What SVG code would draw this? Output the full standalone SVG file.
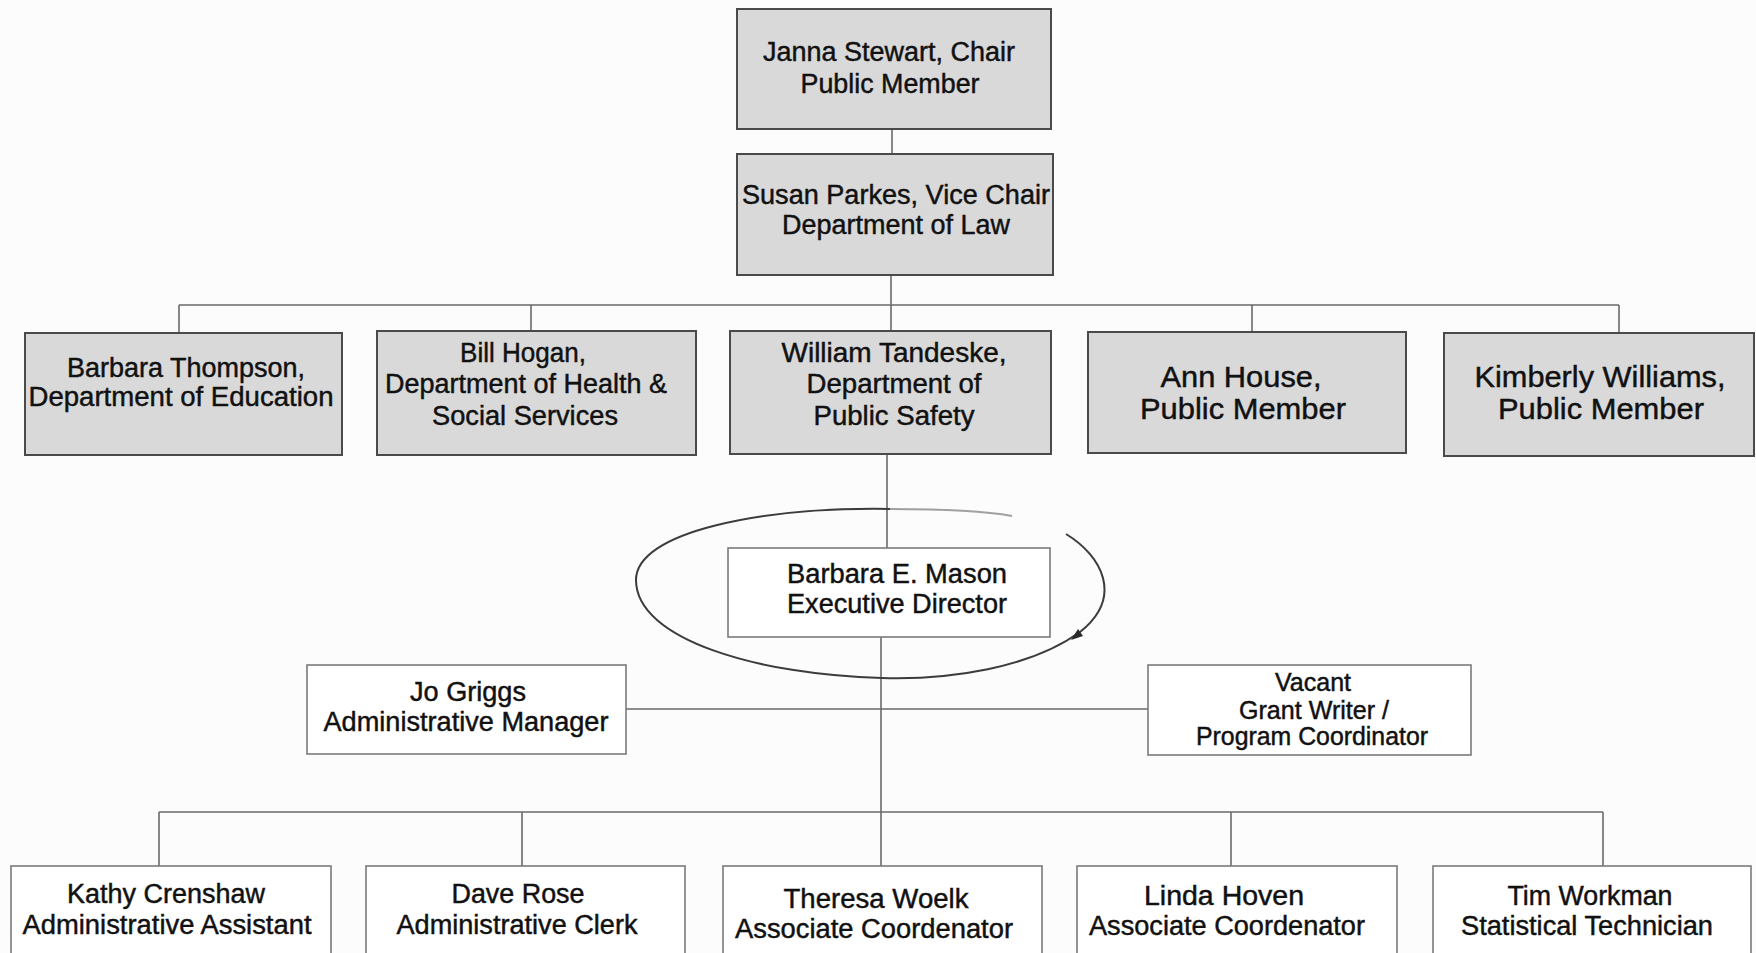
<svg xmlns="http://www.w3.org/2000/svg" width="1756" height="953" viewBox="0 0 1756 953">
<defs>
<style>
.bg{fill:#fcfcfc}
.box{fill:#d9d9d9;stroke:#4a4a4a;stroke-width:2}
.wbox{fill:#ffffff;stroke:#7a7a7a;stroke-width:1.6}
.ln{stroke:#6a6a6a;stroke-width:1.6;fill:none}
.t{font-family:"Liberation Sans",Arial,sans-serif;fill:#111;stroke:#111;stroke-width:0.45;text-anchor:middle}
.s27{font-size:27px}
.s25{font-size:25px}
.s30{font-size:30px}
.loop{stroke:#3c3c3c;stroke-width:2;fill:none}
</style>
</defs>
<rect class="bg" x="0" y="0" width="1756" height="953"/>

<g id="connectors">
  <line class="ln" x1="892" y1="129" x2="892" y2="154"/>
  <line class="ln" x1="891" y1="275" x2="891" y2="331"/>
  <line class="ln" x1="179" y1="305" x2="1619" y2="305"/>
  <line class="ln" x1="179" y1="305" x2="179" y2="333"/>
  <line class="ln" x1="531" y1="305" x2="531" y2="331"/>
  <line class="ln" x1="1252" y1="305" x2="1252" y2="332"/>
  <line class="ln" x1="1619" y1="305" x2="1619" y2="333"/>
  <line class="ln" x1="887" y1="454" x2="887" y2="548"/>
  <line class="ln" x1="881" y1="637" x2="881" y2="866"/>
  <line class="ln" x1="626" y1="709" x2="1148" y2="709"/>
  <line class="ln" x1="159" y1="812" x2="1603" y2="812"/>
  <line class="ln" x1="159" y1="812" x2="159" y2="866"/>
  <line class="ln" x1="522" y1="812" x2="522" y2="866"/>
  <line class="ln" x1="1231" y1="812" x2="1231" y2="866"/>
  <line class="ln" x1="1603" y1="812" x2="1603" y2="866"/>
  <path class="loop" d="M1066 534 C1102 556 1124 597 1080 632 C1030 668 950 680 882 678 C760 675 636 640 636 580 C636 532 760 507 890 509"/>
  <path class="loop" style="stroke:#a0a0a0" d="M890 509 C940 509 985 511 1012 516"/>
  <polygon points="1071,640 1083,636 1078,629" fill="#2a2a2a"/>
</g>

<g id="janna">
  <rect class="box" x="737" y="9" width="314" height="120"/>
  <text class="t s27" x="889" y="61" textLength="252" lengthAdjust="spacingAndGlyphs">Janna Stewart, Chair</text>
  <text class="t s27" x="890" y="93" textLength="179" lengthAdjust="spacingAndGlyphs">Public Member</text>
</g>
<g id="susan">
  <rect class="box" x="737" y="154" width="316" height="121"/>
  <text class="t s27" x="896" y="204" textLength="308" lengthAdjust="spacingAndGlyphs">Susan Parkes, Vice Chair</text>
  <text class="t s27" x="896" y="234" textLength="228" lengthAdjust="spacingAndGlyphs">Department of Law</text>
</g>
<g id="thompson">
  <rect class="box" x="25" y="333" width="317" height="122"/>
  <text class="t s27" x="186" y="377" textLength="238" lengthAdjust="spacingAndGlyphs">Barbara Thompson,</text>
  <text class="t s27" x="181" y="406" textLength="305" lengthAdjust="spacingAndGlyphs">Department of Education</text>
</g>
<g id="hogan">
  <rect class="box" x="377" y="331" width="319" height="124"/>
  <text class="t s27" x="523" y="362" textLength="126" lengthAdjust="spacingAndGlyphs">Bill Hogan,</text>
  <text class="t s27" x="526" y="393" textLength="282" lengthAdjust="spacingAndGlyphs">Department of Health &amp;</text>
  <text class="t s27" x="525" y="425" textLength="186" lengthAdjust="spacingAndGlyphs">Social Services</text>
</g>
<g id="tandeske">
  <rect class="box" x="730" y="331" width="321" height="123"/>
  <text class="t s27" x="894" y="362" textLength="225" lengthAdjust="spacingAndGlyphs">William Tandeske,</text>
  <text class="t s27" x="894" y="393" textLength="175" lengthAdjust="spacingAndGlyphs">Department of</text>
  <text class="t s27" x="894" y="425" textLength="161" lengthAdjust="spacingAndGlyphs">Public Safety</text>
</g>
<g id="house">
  <rect class="box" x="1088" y="332" width="318" height="121"/>
  <text class="t s30" x="1241" y="387" textLength="161" lengthAdjust="spacingAndGlyphs">Ann House,</text>
  <text class="t s30" x="1243" y="419" textLength="206" lengthAdjust="spacingAndGlyphs">Public Member</text>
</g>
<g id="williams">
  <rect class="box" x="1444" y="333" width="310" height="123"/>
  <text class="t s30" x="1600" y="387" textLength="251" lengthAdjust="spacingAndGlyphs">Kimberly Williams,</text>
  <text class="t s30" x="1601" y="419" textLength="206" lengthAdjust="spacingAndGlyphs">Public Member</text>
</g>
<g id="mason">
  <rect class="wbox" x="728" y="548" width="322" height="89"/>
  <text class="t s27" x="897" y="583" textLength="220" lengthAdjust="spacingAndGlyphs">Barbara E. Mason</text>
  <text class="t s27" x="897" y="613" textLength="220" lengthAdjust="spacingAndGlyphs">Executive Director</text>
</g>
<g id="griggs">
  <rect class="wbox" x="307" y="665" width="319" height="89"/>
  <text class="t s27" x="468" y="701" textLength="116" lengthAdjust="spacingAndGlyphs">Jo Griggs</text>
  <text class="t s27" x="466" y="731" textLength="285" lengthAdjust="spacingAndGlyphs">Administrative Manager</text>
</g>
<g id="vacant">
  <rect class="wbox" x="1148" y="665" width="323" height="90"/>
  <text class="t s25" x="1313" y="691" textLength="76" lengthAdjust="spacingAndGlyphs">Vacant</text>
  <text class="t s25" x="1314" y="719" textLength="150" lengthAdjust="spacingAndGlyphs">Grant Writer /</text>
  <text class="t s25" x="1312" y="745" textLength="232" lengthAdjust="spacingAndGlyphs">Program Coordinator</text>
</g>
<g id="crenshaw">
  <rect class="wbox" x="11" y="866" width="320" height="100"/>
  <text class="t s27" x="166" y="903" textLength="198" lengthAdjust="spacingAndGlyphs">Kathy Crenshaw</text>
  <text class="t s27" x="167" y="934" textLength="289" lengthAdjust="spacingAndGlyphs">Administrative Assistant</text>
</g>
<g id="rose">
  <rect class="wbox" x="366" y="866" width="319" height="100"/>
  <text class="t s27" x="518" y="903" textLength="133" lengthAdjust="spacingAndGlyphs">Dave Rose</text>
  <text class="t s27" x="517" y="934" textLength="241" lengthAdjust="spacingAndGlyphs">Administrative Clerk</text>
</g>
<g id="woelk">
  <rect class="wbox" x="723" y="866" width="319" height="100"/>
  <text class="t s27" x="876" y="908" textLength="185" lengthAdjust="spacingAndGlyphs">Theresa Woelk</text>
  <text class="t s27" x="874" y="938" textLength="278" lengthAdjust="spacingAndGlyphs">Associate Coordenator</text>
</g>
<g id="hoven">
  <rect class="wbox" x="1077" y="866" width="320" height="100"/>
  <text class="t s27" x="1224" y="905" textLength="160" lengthAdjust="spacingAndGlyphs">Linda Hoven</text>
  <text class="t s27" x="1227" y="935" textLength="276" lengthAdjust="spacingAndGlyphs">Associate Coordenator</text>
</g>
<g id="workman">
  <rect class="wbox" x="1433" y="866" width="318" height="100"/>
  <text class="t s27" x="1590" y="905" textLength="165" lengthAdjust="spacingAndGlyphs">Tim Workman</text>
  <text class="t s27" x="1587" y="935" textLength="252" lengthAdjust="spacingAndGlyphs">Statistical Technician</text>
</g>
</svg>
